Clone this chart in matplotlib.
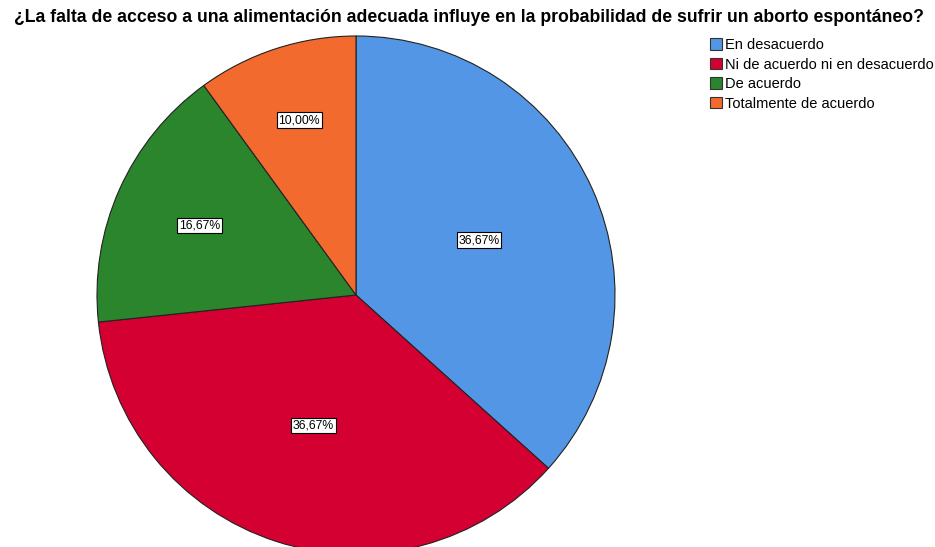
import matplotlib
matplotlib.use('Agg')
import matplotlib.pyplot as plt
import matplotlib.patches as patches
import numpy as np

plt.rcParams['font.family'] = ['Liberation Sans', 'DejaVu Sans']

# Datos del grafico
categorias = ['En desacuerdo', 'Ni de acuerdo ni en desacuerdo', 'De acuerdo', 'Totalmente de acuerdo']
porcentajes = [36.67, 36.67, 16.67, 10.00]
colores = ['#5396E5', '#D40032', '#2B852D', '#F36A2E']
titulo = '¿La falta de acceso a una alimentación adecuada influye en la probabilidad de sufrir un aborto espontáneo?'

# distancia de cada etiqueta al centro (fraccion del radio)
dist_etiquetas = [0.52, 0.53, 0.66, 0.71]

W, H = 935, 547
fig = plt.figure(figsize=(W / 100, H / 100), dpi=100)

# Pie area in pixels: centre (356, 295), radius 259
cx, cy, r = 356, 295, 259
ax = fig.add_axes([(cx - r) / W, (H - cy - r) / H, 2 * r / W, 2 * r / H])
wedges, _ = ax.pie(porcentajes, colors=colores, startangle=90, counterclock=False,
                   wedgeprops={'edgecolor': '#222222', 'linewidth': 0.8})
ax.set_xlim(-1, 1)
ax.set_ylim(-1, 1)
ax.set_aspect('equal')
ax.axis('off')

for w, val, d in zip(wedges, porcentajes, dist_etiquetas):
    ang = np.deg2rad((w.theta1 + w.theta2) / 2)
    ax.text(d * np.cos(ang), d * np.sin(ang), f"{val:.2f}%".replace('.', ','),
            ha='center', va='center', fontsize=8.8,
            bbox=dict(boxstyle='square,pad=0.15', facecolor='white', edgecolor='black', linewidth=0.8))

fig.text(469 / W, 1 - 17 / H, titulo, ha='center', va='center', fontsize=12.7, fontweight='bold')

# Leyenda
handles = [patches.Patch(facecolor=c, edgecolor='#333333', linewidth=0.8) for c in colores]
fig.legend(handles, categorias, loc='upper left', bbox_to_anchor=(710 / W, 1 - 38 / H),
           frameon=False, fontsize=10.5, handlelength=0.85, handleheight=0.85,
           handletextpad=0.15, labelspacing=0.38, borderaxespad=0, borderpad=0)

fig.savefig('out.png', dpi=100)
